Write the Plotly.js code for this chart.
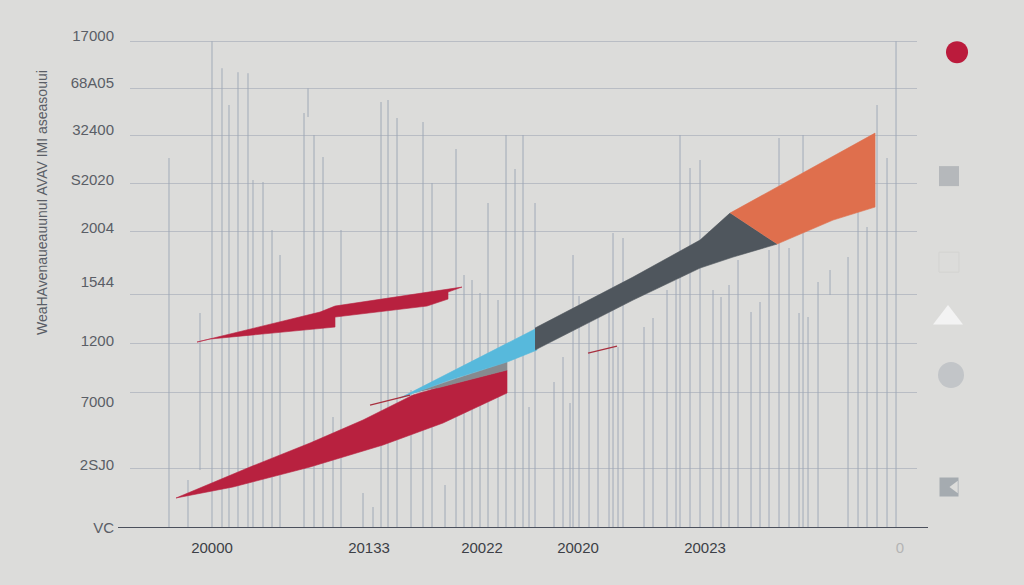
<!DOCTYPE html>
<html>
<head>
  <title>Ribbon chart</title>
<script src="https://cdn.jsdelivr.net/npm/plotly.js-dist@3.0.1/plotly.min.js"></script>
<style>body{margin:0;background:#dcdcda;}</style>
</head>
<body>
  <div id="graph" style="width:1024px;height:585px;"></div>
  <script>
    // axis labels as they appear in the picture
    const yLabels = ['17000', '68A05', '32400', 'S2020', '2004', '1544', '1200', '7000', '2SJ0', 'VC'];
    const yLabelPos = [17220, 15575, 13930, 12180, 10500, 8610, 6545, 4410, 2205, 0];
    const gridVals = [17045, 15400, 13755, 12075, 10395, 8190, 6475, 4760, 2100];
    const xLabels = ['20000', '20133', '20022', '20020', '20023', "<span style='color:#b4b4b4'>0</span>"];
    const xLabelPos = [82, 239, 352, 448, 575, 770];

    // thin background bars: position, top, bottom
    const barX = [39, 58, 70, 82, 92, 99, 108, 118, 123, 133, 142, 150, 174, 178, 184, 193, 203, 211, 233, 243,
      251, 258, 267, 281, 293, 302, 315, 326, 334, 342, 350, 358, 368, 376, 385, 393, 399, 405, 424, 433,
      440, 443, 449, 459, 468, 479, 483, 488, 493, 514, 523, 537, 546, 550, 560, 570, 583, 591, 599, 608,
      621, 630, 639, 649, 659, 669, 673, 678, 688, 700, 718, 728, 737, 747, 757, 766];
    const barTop = [12950, 1680, 7525, 17045, 16100, 14805, 15960, 15925, 12180, 12110, 10430, 9555, 14525, 15400, 13755, 12985, 3885, 10430, 1225, 735,
      14910, 14980, 14350, 4830, 14210, 12075, 1505, 13265, 8855, 8680, 8225, 11375, 7980, 13755, 12565, 13755, 4235, 11375, 5110, 5985,
      4375, 9555, 8120, 7980, 7630, 7980, 10325, 6335, 10150, 7035, 7350, 8330, 8680, 13755, 12600, 12880, 8330, 8085, 8505, 9380,
      7560, 7910, 9730, 13650, 9800, 7525, 13755, 7385, 8610, 9030, 9485, 11130, 10535, 14805, 12950, 17045];
    const barBase = barX.map(function () { return 0; });
    barBase[2] = 2030;
    barBase[13] = 14385;
    barBase[69] = 8155;

    // ribbons
    const upperRedX = [67, 190, 205, 317, 332, 318, 318, 297, 205, 205, 80, 67];
    const upperRedY = [6510, 7560, 7770, 8365, 8435, 8260, 8015, 7770, 7385, 7035, 6615, 6510];
    const lowerRedX = [46, 120, 180, 233, 283, 307, 377, 377, 313, 253, 180, 103, 46];
    const lowerRedY = [1050, 2135, 2975, 3780, 4655, 4900, 5530, 4725, 3675, 2905, 2135, 1435, 1050];
    const sliverX = [283, 377, 377, 307];
    const sliverY = [4725, 5810, 5530, 4900];
    const blueX = [270, 407, 407, 377, 320, 270];
    const blueY = [4550, 7000, 6230, 5810, 5180, 4550];
    const darkX = [405, 503, 570, 600, 647, 603, 570, 503, 405];
    const darkY = [7000, 8785, 10080, 11025, 9940, 9485, 9100, 7980, 6230];
    const orangeX = [600, 745, 745, 703, 647];
    const orangeY = [11025, 13825, 11235, 10780, 9940];
    const strokeX = [240, 280, null, 458, 487];
    const strokeY = [4305, 4655, null, 6125, 6370];

    // legend symbols on the right, no text
    const keyX = [40, 32, 32, 31, 34, 32];
    const keyY = [16660, 12320, 9310, 7350, 5355, 1435];
    const keySymbols = ['circle', 'square', 'square-open', 'triangle-up', 'circle', 'square'];
    const keySizes = [22, 20, 20, 26, 26, 19];
    const keyColors = ['#bb1b3c', '#b5b8bb', '#d3d3d1', '#f3f3f3', '#c2c5c8', '#a5abb0'];

    function ribbon(x, y, color) {
      return {
        x: x, y: y, xaxis: 'x', yaxis: 'y3', type: 'scatter', mode: 'lines',
        fill: 'toself', fillcolor: color, line: { color: color, width: 0.6 },
        hoverinfo: 'skip', showlegend: false
      };
    }

    const data = [
      {
        x: barX, y: barTop.map(function (t, i) { return t - barBase[i]; }), base: barBase,
        type: 'bar', width: 1.2, xaxis: 'x', yaxis: 'y',
        marker: { color: 'rgba(158,168,182,0.8)', line: { width: 0 } },
        hoverinfo: 'skip', showlegend: false
      },
      ribbon(upperRedX, upperRedY, '#b8213f'),
      ribbon(lowerRedX, lowerRedY, '#b8213f'),
      ribbon(sliverX, sliverY, '#868a8f'),
      ribbon(blueX, blueY, '#57b9dc'),
      ribbon(darkX, darkY, '#4f565d'),
      ribbon(orangeX, orangeY, '#df6f4d'),
      {
        x: strokeX, y: strokeY, xaxis: 'x', yaxis: 'y3', type: 'scatter', mode: 'lines',
        line: { color: '#a8303f', width: 1.3 }, hoverinfo: 'skip', showlegend: false
      },
      {
        x: keyX, y: keyY, xaxis: 'x2', yaxis: 'y2', type: 'scatter', mode: 'markers',
        marker: { symbol: keySymbols, size: keySizes, color: keyColors, opacity: 1, line: { width: 0 } },
        hoverinfo: 'skip', showlegend: false
      },
      {
        // notch on the last key symbol
        x: [keyX[5] + 6], y: [keyY[5]], xaxis: 'x2', yaxis: 'y2', type: 'scatter', mode: 'markers',
        marker: { symbol: 'triangle-left', size: 11, color: '#dcdcda', opacity: 1 },
        hoverinfo: 'skip', showlegend: false
      }
    ];

    const tickFont = { family: 'Liberation Sans, Arial, sans-serif', size: 15 };

    const layout = {
      width: 1024, height: 585,
      margin: { l: 130, r: 50, t: 31, b: 57 },
      paper_bgcolor: '#dcdcda', plot_bgcolor: 'rgba(0,0,0,0)',
      barmode: 'overlay',
      xaxis: {
        domain: [0, 0.9325], range: [0, 787], showgrid: false, zeroline: false,
        tickvals: xLabelPos, ticktext: xLabels, ticks: 'outside', ticklen: 6, tickcolor: 'rgba(0,0,0,0)',
        tickfont: Object.assign({ color: '#3c3f46' }, tickFont), fixedrange: true
      },
      yaxis: {
        range: [0, 17400], showgrid: false, zeroline: false,
        tickvals: yLabelPos, ticktext: yLabels, ticks: 'outside', ticklen: 12, tickcolor: 'rgba(0,0,0,0)',
        tickfont: Object.assign({ color: '#5a5e66' }, tickFont), fixedrange: true
      },
      yaxis3: {
        range: [0, 17400], overlaying: 'y', anchor: 'x', showticklabels: false, zeroline: false,
        tickvals: gridVals, showgrid: true, gridcolor: '#b9bdc4', gridwidth: 1, fixedrange: true
      },
      xaxis2: { domain: [0.9325, 1], range: [0, 57], anchor: 'y2', visible: false, fixedrange: true },
      yaxis2: { domain: [0, 1], range: [0, 17400], anchor: 'x2', visible: false, fixedrange: true },
      shapes: [
        { type: 'line', xref: 'paper', yref: 'y', x0: -0.0142, x1: 0.9455, y0: 0, y1: 0,
          line: { color: '#4b505c', width: 2 } }
      ],
      annotations: [
        { text: 'WeaHAvenaueauunuI AVAV IMI aseasouui', xref: 'paper', yref: 'paper',
          x: -0.116, y: 0.654, textangle: -90, showarrow: false,
          font: { family: 'Liberation Sans, Arial, sans-serif', size: 14, color: '#5a5e66' } }
      ]
    };

    Plotly.newPlot('graph', data, layout, { displayModeBar: false, staticPlot: true });
  </script>
</body>
</html>
